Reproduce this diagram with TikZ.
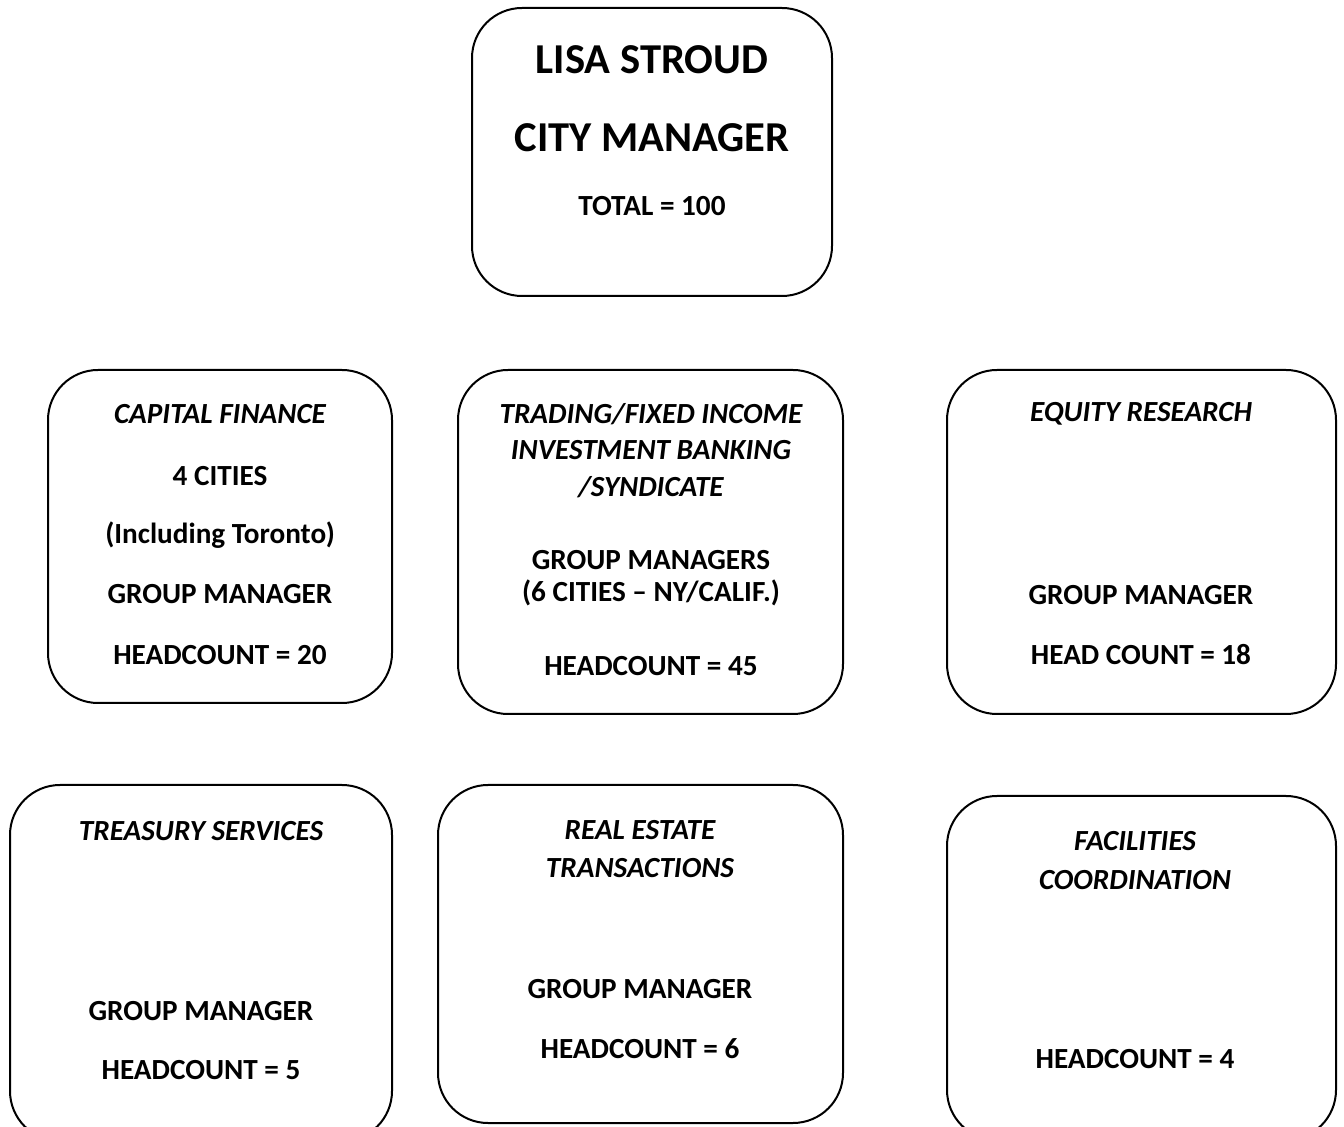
\documentclass[tikz,border=0pt]{standalone}
\usepackage{fontspec}
\setmainfont{Carlito}
\usetikzlibrary{positioning}

\begin{document}
\begin{tikzpicture}[
    x=0.5pt, y=-0.5pt,
    unit/.style={rectangle, draw, line width=1pt, rounded corners=25pt, inner sep=0pt},
    big/.style={font=\fontsize{21.3}{25}\selectfont\bfseries},
    lbl/.style={font=\fontsize{14.6}{17}\selectfont\bfseries, inner sep=0pt},
    dept/.style={font=\fontsize{14.6}{17}\selectfont\bfseries\itshape, inner sep=0pt}
]
\useasboundingbox (0,0) rectangle (1344,1127);

% Top Box
\node[unit, minimum width=180pt, minimum height=144pt] (boss) at (652,152) {};
\node[big] (bossname) at (652,60) {LISA STROUD};
\node[big] (bosstitle) at (652,138) {CITY MANAGER};
\node[lbl] (bosstotal) at (652,206) {TOTAL = 100};

% Middle Row
\node[unit, minimum width=172pt, minimum height=166.5pt] (capital) at (220,536.5) {};
\node[dept] (capitalname) at (220,414) {CAPITAL FINANCE};
\node[lbl] (capitalcities) at (220,476) {4 CITIES};
\node[lbl] (capitalnote) at (220,535) {(Including Toronto)};
\node[lbl] (capitalmgr) at (220,594) {GROUP MANAGER};
\node[lbl] (capitalcount) at (220,655) {HEADCOUNT = 20};

\node[unit, minimum width=192.5pt, minimum height=172pt] (trading) at (650.5,542) {};
\node[dept] (tradingname1) at (651,414) {TRADING/FIXED INCOME};
\node[dept] (tradingname2) at (651,450) {INVESTMENT BANKING};
\node[dept] (tradingname3) at (651,487) {/SYNDICATE};
\node[lbl] (tradingmgr) at (651,560) {GROUP MANAGERS};
\node[lbl] (tradingcities) at (651,593) {(6 CITIES – NY/CALIF.)};
\node[lbl] (tradingcount) at (651,666) {HEADCOUNT = 45};

\node[unit, minimum width=194.5pt, minimum height=172pt] (equity) at (1141.5,542) {};
\node[dept] (equityname) at (1141,414) {EQUITY RESEARCH};
\node[lbl] (equitymgr) at (1141,595) {GROUP MANAGER};
\node[lbl] (equitycount) at (1141,655) {HEAD COUNT = 18};

% Bottom Row
\node[unit, minimum width=191pt, minimum height=178pt] (treasury) at (201,963) {};
\node[dept] (treasuryname) at (201,831) {TREASURY SERVICES};
\node[lbl] (treasurymgr) at (201,1011) {GROUP MANAGER};
\node[lbl] (treasurycount) at (201,1070) {HEADCOUNT = 5};

\node[unit, minimum width=202.5pt, minimum height=169pt] (estate) at (640.5,954) {};
\node[dept] (estatename1) at (640,830) {REAL ESTATE};
\node[dept] (estatename2) at (640,868) {TRANSACTIONS};
\node[lbl] (estatemgr) at (640,989) {GROUP MANAGER};
\node[lbl] (estatecount) at (640,1049) {HEADCOUNT = 6};

\node[unit, minimum width=194.5pt, minimum height=172pt] (facilities) at (1141.5,968) {};
\node[dept] (facilitiesname1) at (1135,841) {FACILITIES};
\node[dept] (facilitiesname2) at (1135,880) {COORDINATION};
\node[lbl] (facilitiescount) at (1135,1059) {HEADCOUNT = 4};

\end{tikzpicture}
\end{document}
